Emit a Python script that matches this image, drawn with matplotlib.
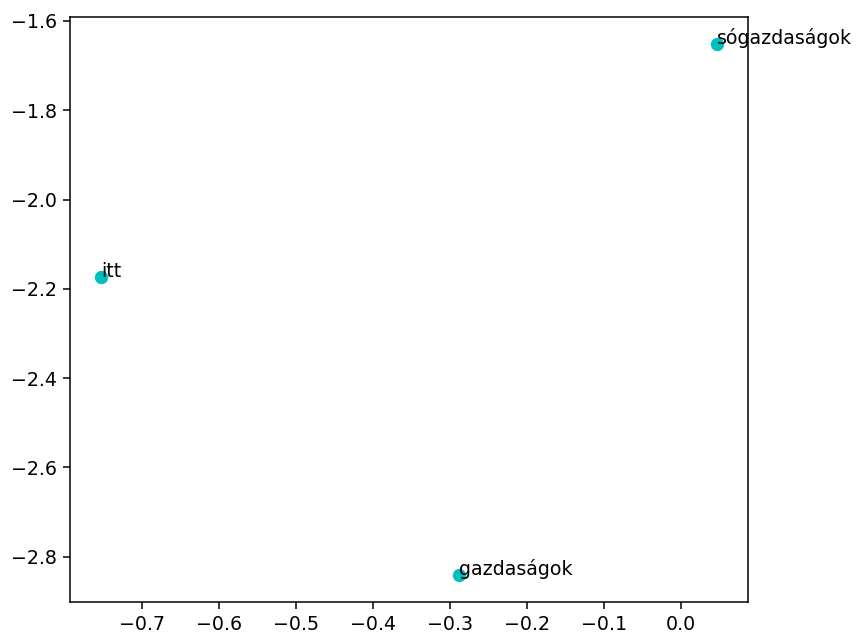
import matplotlib
matplotlib.use("Agg")
import matplotlib.pyplot as plt

words = ["sógazdaságok", "itt", "gazdaságok"]
x_vals = [0.047, -0.753, -0.289]
y_vals = [-1.651, -2.174, -2.842]

dpi = 137
fig = plt.figure(figsize=(858 / dpi, 635 / dpi), dpi=dpi)
ax = fig.add_axes([0.082, 0.052, 0.79, 0.921])
ax.scatter(x_vals, y_vals, color='c')
for w, x, y in zip(words, x_vals, y_vals):
    ax.annotate(w, (x, y))

fig.savefig("out.png", dpi=dpi)
